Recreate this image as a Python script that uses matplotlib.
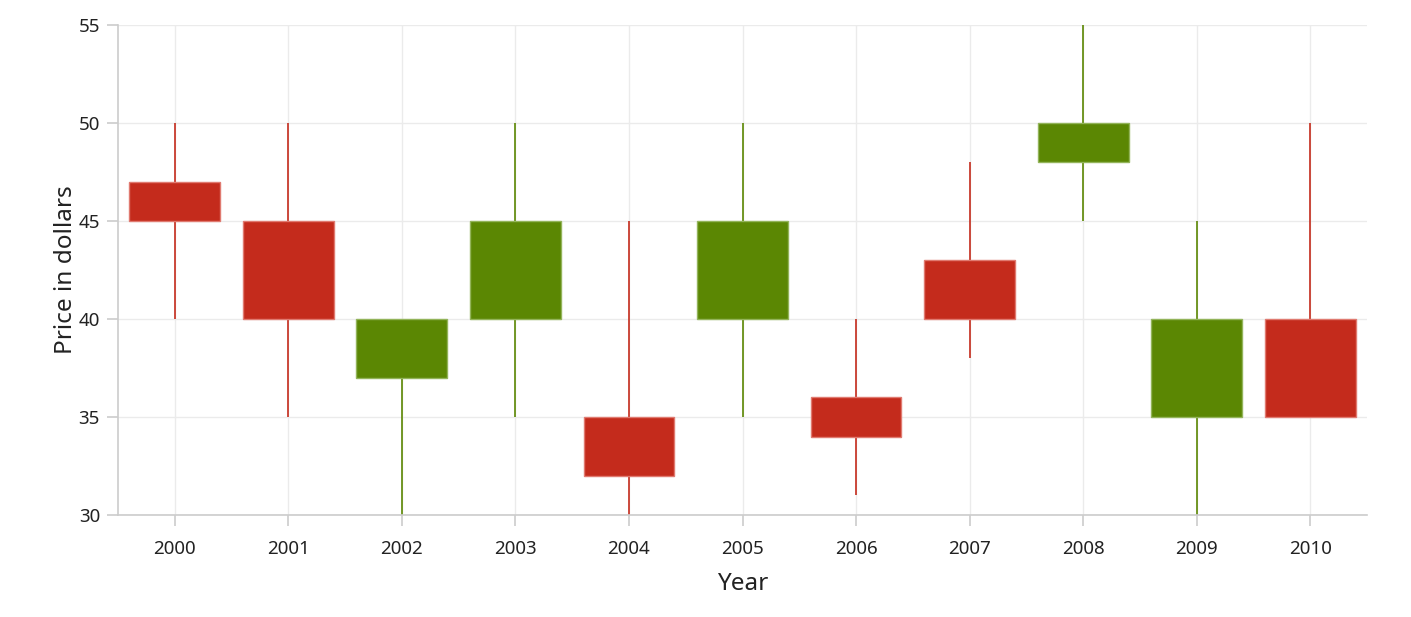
import matplotlib
matplotlib.use("Agg")
import matplotlib.pyplot as plt

years = ["2000", "2001", "2002", "2003", "2004", "2005", "2006", "2007", "2008", "2009", "2010"]
opens = [47, 45, 37, 40, 35, 40, 36, 43, 48, 35, 40]
closes = [45, 40, 40, 45, 32, 45, 34, 40, 50, 40, 35]
highs = [50, 50, 40, 50, 45, 50, 40, 48, 55, 45, 50]
lows = [40, 35, 30, 35, 30, 35, 31, 38, 45, 30, 35]

RED = "#C42B1C"
GREEN = "#5B8703"
RED_EDGE = "#E07A70"
GREEN_EDGE = "#93B45A"

plt.rcParams['font.family'] = ['Noto Sans', 'DejaVu Sans']

fig = plt.figure(figsize=(14.11, 6.17), dpi=100)
ax = fig.add_axes([118/1411, 1 - 515/617, (1367-118)/1411, (515-25)/617])

x = list(range(len(years)))
for i in x:
    o, c, h, l = opens[i], closes[i], highs[i], lows[i]
    up = c >= o
    col = GREEN if up else RED
    ec = GREEN_EDGE if up else RED_EDGE
    lo, hi = min(o, c), max(o, c)
    ax.vlines(i, l, h, color=col, linewidth=1.2, zorder=2)
    ax.bar(i, hi - lo, bottom=lo, width=0.8, color=col, edgecolor=ec, linewidth=1.0, zorder=3)

ax.set_xlim(-0.5, len(years) - 0.5)
ax.set_ylim(30, 55)
ax.set_xticks(x)
ax.set_xticklabels(years)
ax.set_yticks([30, 35, 40, 45, 50, 55])

ax.grid(True, color="#EBEBEB", linewidth=1.0, zorder=0)
ax.set_axisbelow(True)
for s in ["top", "right"]:
    ax.spines[s].set_visible(False)
for s in ["left", "bottom"]:
    ax.spines[s].set_color("#CCCCCC")
    ax.spines[s].set_linewidth(1.2)
ax.tick_params(axis="both", colors="#CCCCCC", labelcolor="#222222", labelsize=13.5, length=8, width=1.2)
ax.tick_params(axis="x", pad=10)
ax.tick_params(axis="y", pad=5)

ax.set_xlabel("Year", fontsize=17.5, color="#222222", labelpad=10)
ax.set_ylabel("Price in dollars", fontsize=17.5, color="#222222", labelpad=0)

fig.savefig("out.png", dpi=100)
